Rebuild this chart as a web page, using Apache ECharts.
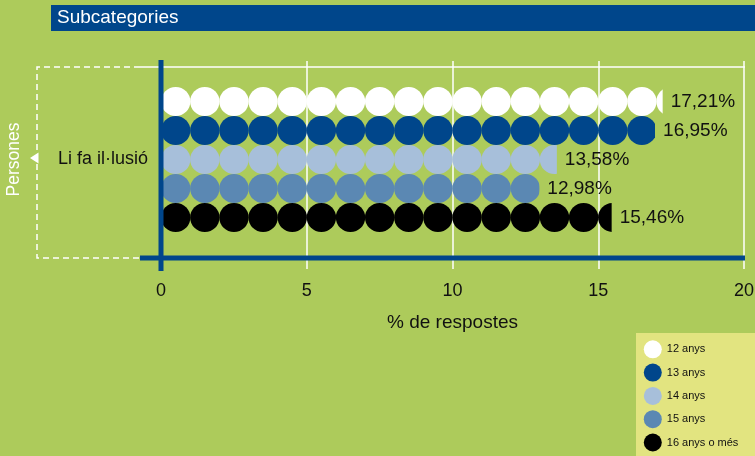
<!DOCTYPE html>
<html>
<head>
<meta charset="utf-8">
<style>
  html, body { margin: 0; padding: 0; background: #ADCB5B; }
  #chart { width: 755px; height: 456px; }
</style>
<script src="https://cdn.jsdelivr.net/npm/echarts@6/dist/echarts.min.js"></script>
</head>
<body>
<div id="chart"></div>
<script>
// Categories, age groups and their shares (% of answers)
const categories = ['Li fa il·lusió'];
const ageGroups = ['12 anys', '13 anys', '14 anys', '15 anys', '16 anys o més'];
const shares = [17.21, 16.95, 13.58, 12.98, 15.46];
const xTicks = [0, 5, 10, 15, 20];

const groupColors = ['#FFFFFF', '#00468B', '#A7BFDA', '#5B88B3', '#000000'];
const NAVY = '#00468B';
const FONT = '"Liberation Sans", Arial, Helvetica, sans-serif';

const fmt = v => v.toFixed(2).replace('.', ',') + '%';

const chart = echarts.init(document.getElementById('chart'), null, { renderer: 'canvas' });

// One row of clipped circles per age group (one circle = 1 %)
const dotSeries = ageGroups.map((name, i) => ({
  name: name,
  type: 'pictorialBar',
  yAxisIndex: 0,
  symbol: 'circle',
  symbolRepeat: 'fixed',
  symbolMargin: 0,
  symbolClip: true,
  symbolSize: [29.4, 29],
  symbolBoundingData: xTicks[xTicks.length - 1],
  barWidth: 29,
  barGap: '0%',
  itemStyle: { color: groupColors[i] },
  data: [shares[i]],
  z: 3
}));

// Invisible bars on a twin category axis carry the value labels at each row's end
const labelSeries = ageGroups.map((name, i) => ({
  name: name + ' (valor)',
  type: 'bar',
  yAxisIndex: 1,
  barWidth: 29,
  barGap: '0%',
  itemStyle: { color: 'rgba(0,0,0,0)' },
  label: {
    show: true,
    position: 'right',
    distance: 8,
    formatter: p => fmt(p.value),
    color: '#111',
    fontSize: 19,
    fontFamily: FONT
  },
  data: [shares[i]],
  silent: true,
  z: 4
}));

chart.setOption({
  backgroundColor: '#ADCB5B',
  animation: false,
  textStyle: { fontFamily: FONT },
  grid: { left: 161, right: 11, top: 61, bottom: 198, containLabel: false, outerBoundsMode: 'none' },
  xAxis: {
    type: 'value',
    min: xTicks[0],
    max: xTicks[xTicks.length - 1],
    interval: xTicks[1] - xTicks[0],
    name: '% de respostes',
    nameLocation: 'middle',
    nameGap: 55,
    nameTextStyle: { color: '#111', fontSize: 19, fontFamily: FONT },
    axisLine: { show: false },
    axisTick: { show: true, length: 11, lineStyle: { color: '#FFFFFF', width: 1.5 } },
    axisLabel: { color: '#111', fontSize: 18, margin: 24, fontFamily: FONT },
    splitLine: { show: true, lineStyle: { color: '#FFFFFF', width: 1.5 } }
  },
  yAxis: [{
    type: 'category',
    data: categories,
    inverse: true,
    name: 'Persones',
    nameLocation: 'middle',
    nameRotate: 90,
    nameGap: 138,
    nameTextStyle: { color: '#FFFFFF', fontSize: 17.5, fontFamily: FONT },
    axisLine: { show: false },
    axisTick: { show: false },
    axisLabel: { color: '#111', fontSize: 18, margin: 13, fontFamily: FONT },
    splitLine: { show: false }
  }, {
    type: 'category',
    data: categories,
    inverse: true,
    position: 'left',
    show: false
  }],
  legend: {
    orient: 'vertical',
    left: 643.8,
    top: 340.3,
    icon: 'circle',
    itemWidth: 18,
    itemHeight: 18,
    itemGap: 5.3,
    padding: 0,
    data: ageGroups,
    textStyle: { color: '#111', fontSize: 11, fontFamily: FONT },
    z: 5
  },
  series: dotSeries.concat(labelSeries)
});

// Frame decorations: title band, dashed bracket, axis rules, legend panel
const x0 = chart.convertToPixel({ xAxisIndex: 0 }, xTicks[0]);
const far = chart.convertToPixel({ xAxisIndex: 0 }, xTicks[xTicks.length - 1]);
const yBase = 258;

chart.setOption({
  graphic: [
    { type: 'rect', shape: { x: 51, y: 5, width: 704, height: 26 }, style: { fill: NAVY }, z: 1 },
    { type: 'text', x: 57, y: 18, style: { text: 'Subcategories', fill: '#FFFFFF', font: '19px ' + FONT, textVerticalAlign: 'middle' }, z: 2 },
    // dashed bracket on the left
    { type: 'polyline', shape: { points: [[140, 67], [37, 67], [37, yBase], [140, yBase]] },
      style: { stroke: '#FFFFFF', lineWidth: 1.5, lineDash: [6, 4], fill: null }, z: 2 },
    { type: 'line', shape: { x1: 140, y1: 67, x2: far + 1, y2: 67 }, style: { stroke: '#FFFFFF', lineWidth: 1.5 }, z: 2 },
    { type: 'polygon', shape: { points: [[30, 158], [38.5, 152.5], [38.5, 163.5]] }, style: { fill: '#FFFFFF' }, z: 2 },
    // navy axis rules
    { type: 'line', shape: { x1: 140, y1: yBase, x2: far + 1, y2: yBase }, style: { stroke: NAVY, lineWidth: 5 }, z: 10 },
    { type: 'line', shape: { x1: x0, y1: 60, x2: x0, y2: 271 }, style: { stroke: NAVY, lineWidth: 5 }, z: 10 },
    // legend panel
    { type: 'rect', shape: { x: 636, y: 333, width: 119, height: 123 }, style: { fill: '#E2E480' }, z: 0 }
  ]
});
</script>
</body>
</html>
